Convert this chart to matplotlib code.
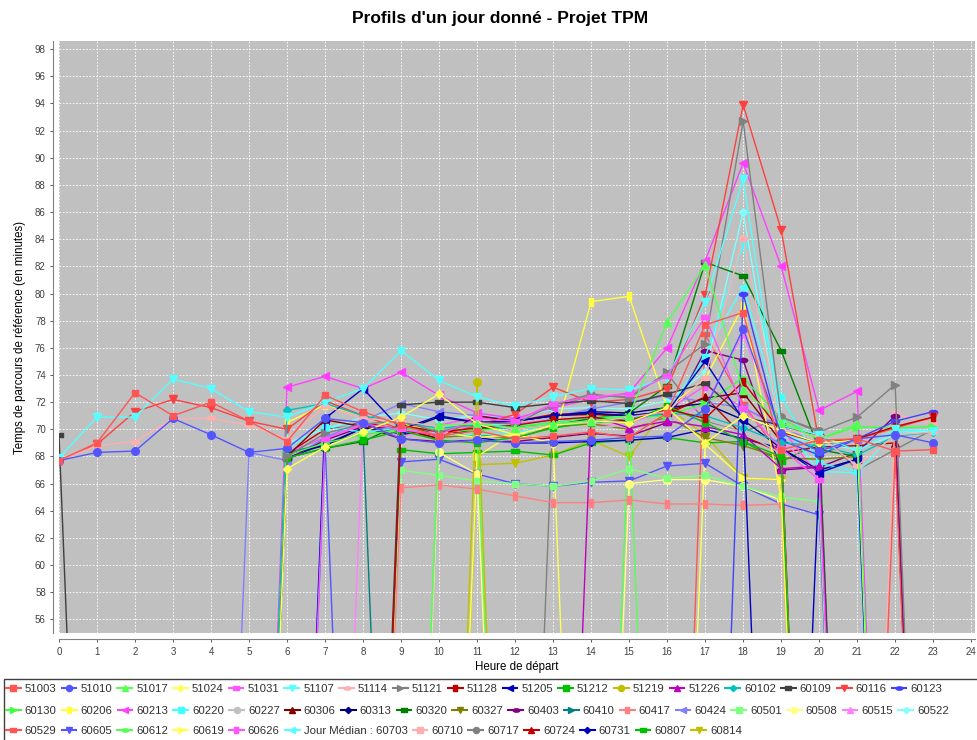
import matplotlib
matplotlib.use("Agg")
import matplotlib.pyplot as plt
from matplotlib.lines import Line2D
from matplotlib.path import Path
from matplotlib.transforms import Affine2D
from matplotlib.patches import Rectangle

plt.rcParams['font.family'] = ['Liberation Sans', 'DejaVu Sans']

hours = list(range(24))

# one list per day (0 = pas de mesure)
s51003 = [67.7, 69.0, 72.7, 71.0, 72.0, 70.6, 69.1, 72.5, 71.3, 70.3, 69.5, 69.9, 69.3, 69.5, 69.8, 69.4, 71.2, 77.7, 78.6, 68.5, 69.2, 69.3, 68.4, 68.5]
s51010 = [67.7, 68.3, 68.4, 70.8, 69.6, 68.3, 68.6, 70.8, 70.5, 69.3, 69.0, 69.2, 69.0, 69.1, 69.2, 69.4, 69.5, 71.5, 77.4, 69.7, 68.4, 69.3, 69.6, 69.0]
s51017 = [0, 0, 0, 0, 0, 0, 0, 0, 0, 0, 70.3, 70.4, 70.1, 70.4, 70.6, 71.0, 77.9, 82.1, 72.9, 70.5, 69.3, 70.4, 0, 0]
s51024 = [0, 0, 0, 0, 0, 0, 67.1, 68.7, 69.8, 70.9, 72.6, 70.4, 69.6, 70.3, 70.6, 70.5, 71.6, 69.0, 71.0, 69.9, 69.0, 69.2, 0, 0]
s51031 = [0, 0, 0, 0, 0, 0, 0, 69.3, 70.4, 70.0, 69.6, 70.8, 70.6, 71.9, 72.4, 72.6, 73.9, 78.3, 71.6, 68.6, 66.3, 0, 0, 0]
s51107 = [67.9, 70.9, 70.9, 73.7, 73.0, 71.3, 70.9, 72.0, 73.0, 75.8, 73.6, 72.4, 71.7, 72.4, 73.0, 72.9, 73.8, 79.4, 88.4, 70.3, 69.6, 68.4, 70.0, 69.9]
s51114 = [67.7, 68.8, 69.1, 70.8, 70.8, 70.3, 69.3, 71.7, 70.8, 70.6, 70.2, 70.5, 70.0, 70.3, 70.5, 70.9, 71.3, 73.8, 84.1, 70.0, 69.5, 67.3, 69.6, 69.8]
s51121 = [0, 0, 0, 0, 0, 0, 68.0, 69.7, 70.4, 70.6, 69.8, 70.5, 70.4, 71.8, 72.6, 72.3, 74.2, 76.3, 92.7, 70.9, 69.8, 70.9, 73.3, 0]
s51128 = [0, 0, 0, 0, 0, 0, 0, 0, 0, 70.3, 69.8, 70.1, 70.3, 70.7, 70.9, 70.6, 71.5, 70.8, 73.5, 69.8, 69.0, 69.3, 70.2, 70.9]
s51205 = [0, 0, 0, 0, 0, 0, 0, 70.8, 73.0, 70.0, 71.0, 70.5, 70.6, 71.0, 71.2, 71.0, 71.3, 75.0, 70.7, 0, 66.8, 67.8, 0, 0]
s51212 = [0, 0, 0, 0, 0, 0, 67.9, 68.6, 69.2, 69.9, 69.2, 69.0, 69.4, 70.1, 70.5, 70.6, 71.7, 70.5, 69.1, 68.0, 0, 0, 0, 0]
s51219 = [0, 0, 0, 0, 0, 0, 0, 0, 0, 0, 0, 73.5, 0, 0, 0, 0, 0, 0, 0, 0, 0, 0, 0, 0]
s51226 = [0, 0, 0, 0, 0, 0, 0, 0, 0, 0, 0, 0, 0, 0, 71.0, 70.1, 70.6, 70.2, 69.6, 67.1, 67.3, 0, 0, 0]
s60102 = [0, 0, 0, 0, 0, 0, 71.4, 71.9, 71.0, 70.5, 70.1, 70.3, 70.0, 70.3, 70.6, 70.8, 71.2, 71.0, 70.1, 69.0, 68.8, 68.1, 69.5, 69.8]
s60109 = [69.6, 0, 0, 0, 0, 0, 0, 0, 0, 71.8, 72.0, 72.0, 71.6, 71.9, 72.1, 71.9, 72.6, 73.4, 70.9, 70.3, 69.5, 0, 0, 0]
s60116 = [67.7, 68.9, 71.3, 72.2, 71.6, 70.6, 70.0, 72.1, 71.0, 70.0, 69.5, 70.3, 71.1, 73.1, 72.0, 72.2, 73.0, 79.9, 93.9, 84.7, 69.0, 69.3, 70.1, 70.9]
s60123 = [0, 0, 0, 0, 0, 0, 0, 0, 0, 0, 0, 0, 0, 0, 0, 0, 0, 0, 80.0, 69.2, 68.1, 69.3, 70.6, 71.3]
s60130 = [0, 0, 0, 0, 0, 0, 68.1, 69.0, 69.6, 70.0, 70.1, 69.9, 70.2, 70.5, 70.9, 70.9, 71.0, 71.9, 73.8, 70.8, 69.3, 70.2, 70.1, 70.2]
s60206 = [0, 0, 0, 0, 0, 0, 70.5, 71.8, 71.0, 70.4, 69.8, 69.4, 69.6, 69.0, 79.4, 79.8, 71.6, 73.7, 79.1, 65.0, 0, 0, 0, 0]
s60213 = [0, 0, 0, 0, 0, 0, 73.1, 73.9, 73.0, 74.2, 72.5, 71.2, 70.8, 71.6, 72.2, 72.7, 76.0, 82.4, 89.6, 82.0, 71.4, 72.8, 0, 0]
s60220 = [0, 0, 0, 0, 0, 0, 0, 70.2, 69.8, 70.1, 69.6, 69.6, 69.7, 70.4, 70.6, 70.9, 71.0, 75.3, 83.6, 72.4, 67.5, 66.9, 0, 0]
s60227 = [0, 0, 0, 0, 0, 0, 0, 0, 0, 0, 69.2, 69.0, 69.3, 69.9, 70.1, 70.3, 70.7, 70.5, 69.8, 68.2, 0, 0, 0, 0]
s60306 = [0, 0, 0, 0, 0, 0, 68.0, 70.7, 70.2, 70.1, 69.3, 71.0, 70.6, 71.0, 71.1, 71.0, 71.3, 72.3, 72.7, 69.1, 0, 0, 0, 0]
s60313 = [0, 0, 0, 0, 0, 0, 68.2, 68.8, 70.1, 69.9, 70.9, 70.5, 70.6, 71.0, 71.3, 71.2, 71.6, 71.9, 70.7, 68.6, 67.0, 67.8, 0, 0]
s60320 = [0, 0, 0, 0, 0, 0, 67.9, 68.6, 69.1, 70.4, 69.5, 70.0, 70.2, 70.3, 70.8, 71.2, 73.2, 82.3, 81.3, 75.8, 68.5, 68.0, 0, 0]
s60327 = [0, 0, 0, 0, 0, 0, 0, 0, 0, 70.6, 69.4, 69.6, 69.3, 70.2, 70.4, 70.0, 70.9, 69.4, 68.8, 67.9, 67.8, 68.0, 0, 0]
s60403 = [0, 0, 0, 0, 0, 0, 67.8, 69.2, 70.2, 69.3, 69.1, 69.2, 69.1, 69.4, 69.7, 69.5, 70.5, 75.8, 75.1, 67.0, 67.2, 68.3, 71.0, 0]
s60410 = [0, 0, 0, 0, 0, 0, 68.3, 68.9, 69.7, 0, 0, 0, 0, 0, 0, 0, 0, 0, 0, 0, 0, 0, 0, 0]
s60417 = [0, 0, 0, 0, 0, 0, 0, 0, 0, 65.7, 65.9, 65.6, 65.1, 64.6, 64.6, 64.8, 64.5, 64.5, 64.4, 64.5, 0, 0, 0, 0]
s60424 = [0, 0, 0, 0, 0, 68.3, 67.7, 69.4, 70.6, 71.9, 71.3, 71.0, 70.7, 70.9, 71.5, 72.0, 72.5, 72.0, 71.6, 70.2, 68.9, 69.2, 0, 0]
s60501 = [0, 0, 0, 0, 0, 0, 0, 0, 0, 67.0, 66.6, 66.2, 66.0, 65.8, 66.2, 67.1, 66.4, 66.6, 65.8, 65.0, 64.7, 0, 0, 0]
s60508 = [0, 0, 0, 0, 0, 0, 0, 0, 0, 0, 68.3, 66.7, 0, 0, 0, 66.0, 66.3, 66.3, 65.8, 64.8, 0, 0, 0, 0]
s60515 = [0, 0, 0, 0, 0, 0, 0, 0, 70.4, 69.5, 69.9, 70.3, 70.0, 70.6, 70.4, 70.2, 70.7, 71.8, 77.0, 69.3, 66.6, 0, 0, 0]
s60522 = [0, 0, 0, 0, 0, 0, 69.0, 70.0, 70.9, 71.2, 70.7, 71.0, 70.8, 71.5, 71.6, 71.5, 72.1, 74.2, 86.0, 69.5, 69.0, 68.5, 69.6, 69.9]
s60529 = [0, 0, 0, 0, 0, 0, 0, 0, 0, 0, 0, 0, 0, 0, 0, 0, 0, 77.0, 71.9, 68.0, 0, 0, 68.2, 0]
s60605 = [0, 0, 0, 0, 0, 0, 0, 69.0, 0, 67.6, 67.8, 66.7, 66.0, 65.8, 66.1, 66.2, 67.3, 67.5, 65.8, 64.5, 63.7, 0, 0, 0]
s60612 = [0, 0, 0, 0, 0, 0, 0, 0, 0, 0, 70.0, 69.9, 0, 0, 0, 70.9, 0, 0, 0, 0, 0, 0, 0, 0]
s60619 = [0, 0, 0, 0, 0, 0, 0, 0, 0, 0, 0, 68.0, 69.8, 69.2, 0, 0, 0, 68.9, 66.4, 66.3, 0, 0, 0, 0]
s60626 = [0, 0, 0, 0, 0, 0, 68.3, 69.4, 70.3, 70.0, 70.3, 70.9, 70.4, 70.7, 70.8, 70.5, 71.4, 73.2, 71.6, 70.1, 66.5, 0, 0, 0]
s60703 = [0, 0, 0, 0, 0, 0, 68.6, 70.2, 70.3, 70.1, 69.9, 70.4, 70.3, 70.6, 70.8, 71.0, 71.3, 75.5, 80.5, 70.6, 66.9, 66.8, 69.8, 69.9]
s60710 = [0, 0, 0, 0, 0, 0, 0, 0, 0, 0, 0, 0, 0, 0, 0, 0, 0, 0, 0, 0, 0, 0, 71.1, 70.4]
s60717 = [0, 0, 0, 0, 0, 0, 0, 0, 0, 0, 0, 0, 0, 71.6, 72.5, 72.4, 74.1, 70.6, 69.8, 70.9, 69.9, 67.0, 68.5, 70.0]
s60724 = [0, 0, 0, 0, 0, 0, 68.2, 70.0, 70.5, 70.0, 69.3, 71.0, 70.6, 71.1, 71.2, 70.8, 71.1, 72.4, 69.5, 68.3, 68.7, 68.8, 69.0, 0]
s60731 = [0, 0, 0, 0, 0, 0, 67.9, 68.9, 70.1, 69.6, 70.0, 69.4, 69.0, 69.0, 69.1, 69.2, 69.4, 70.0, 69.3, 68.6, 66.8, 0, 0, 0]
s60807 = [0, 0, 0, 0, 0, 0, 0, 0, 0, 68.5, 68.2, 68.3, 68.4, 68.1, 69.0, 69.2, 69.4, 69.0, 69.1, 67.6, 69.0, 0, 0, 0]
s60814 = [0, 0, 0, 0, 0, 0, 0, 0, 0, 0, 0, 67.4, 67.5, 68.1, 69.2, 68.0, 71.6, 69.6, 66.4, 66.3, 0, 0, 0, 0]

labels = ['51003', '51010', '51017', '51024', '51031', '51107', '51114', '51121', '51128',
          '51205', '51212', '51219', '51226', '60102', '60109', '60116', '60123', '60130',
          '60206', '60213', '60220', '60227', '60306', '60313', '60320', '60327', '60403',
          '60410', '60417', '60424', '60501', '60508', '60515', '60522', '60529', '60605',
          '60612', '60619', '60626', 'Jour Médian : 60703', '60710', '60717', '60724',
          '60731', '60807', '60814']
series = [s51003, s51010, s51017, s51024, s51031, s51107, s51114, s51121, s51128,
          s51205, s51212, s51219, s51226, s60102, s60109, s60116, s60123, s60130,
          s60206, s60213, s60220, s60227, s60306, s60313, s60320, s60327, s60403,
          s60410, s60417, s60424, s60501, s60508, s60515, s60522, s60529, s60605,
          s60612, s60619, s60626, s60703, s60710, s60717, s60724, s60731, s60807, s60814]

# palette et formes par defaut JFreeChart
palette = ['#FF5555', '#5555FF', '#55FF55', '#FFFF55', '#FF55FF', '#55FFFF', '#FFAFAF', '#808080',
           '#C00000', '#0000C0', '#00C000', '#C0C000', '#C000C0', '#00C0C0', '#404040',
           '#FF4040', '#4040FF', '#40FF40', '#FFFF40', '#FF40FF', '#40FFFF', '#C0C0C0',
           '#800000', '#000080', '#008000', '#808000', '#800080', '#008080',
           '#FF8080', '#8080FF', '#80FF80', '#FFFF80', '#FF80FF', '#80FFFF']
hrect = [(-1, -0.5), (1, -0.5), (1, 0.5), (-1, 0.5), (-1, -0.5)]
vrect = [(-0.5, -1), (0.5, -1), (0.5, 1), (-0.5, 1), (-0.5, -1)]
ellipse = Affine2D().scale(1, 0.5).transform_path(Path.unit_circle())
shapes = ['s', 'o', '^', 'D', hrect, 'v', ellipse, '>', vrect, '<']
sizes = [5, 5.5, 5.5, 4, 6, 5.5, 6, 5.5, 6, 5.5]

fig = plt.figure(figsize=(9.78, 7.40), dpi=100)
ax = fig.add_axes([59 / 978, 1 - 633 / 740, 916 / 978, 592 / 740])
ax.set_facecolor('#C0C0C0')

handles = []
for i in range(len(series) - 1, -1, -1):
    c = palette[i % len(palette)]
    m = shapes[i % 10]
    ms = sizes[i % 10]
    ax.plot(hours, series[i], color=c, lw=1, marker=m, ms=ms, mec=c, mfc=c)
for i in range(len(series)):
    c = palette[i % len(palette)]
    handles.append(Line2D([], [], color=c, lw=1.5, marker=shapes[i % 10],
                          ms=sizes[i % 10] * 0.8, mec=c, mfc=c))

ax.set_xlim(0, 24.1)
ax.set_ylim(55.0, 98.6)
ax.set_xticks(range(0, 25))
ax.set_yticks(range(56, 99, 2))
ax.grid(True, color='white', linestyle=(0, (2, 2)), linewidth=0.6)
ax.set_axisbelow(True)
for s in ['top', 'right']:
    ax.spines[s].set_visible(False)
ax.spines['left'].set_position(('outward', 4))
ax.spines['bottom'].set_position(('outward', 4))
ax.spines['left'].set_color('#808080')
ax.spines['bottom'].set_color('#808080')
ax.tick_params(labelsize=7, colors='#404040', length=2, width=0.6)
ax.tick_params(axis='x', pad=4)
ax.set_xlabel('Heure de départ', fontsize=8.3, labelpad=3)
ax.set_ylabel('Temps de parcours de référence (en minutes)', fontsize=8.3, labelpad=6)
fig.text(500 / 978, 1 - 19 / 740, "Profils d'un jour donné - Projet TPM",
         fontsize=12.5, fontweight='bold', ha='center', va='center')

# cadre de la legende
fig.patches.append(Rectangle((4 / 978, -0.01), 0.999, 1 - 679 / 740 + 0.01,
                             transform=fig.transFigure, facecolor='white',
                             edgecolor='#404040', linewidth=1, zorder=0))

rows = [(0, 17, 689), (17, 34, 711), (34, 46, 731)]
for a, b, yp in rows:
    leg = fig.legend(handles[a:b], labels[a:b], loc='center left',
                     bbox_to_anchor=(6 / 978, 1 - yp / 740), ncol=b - a, frameon=False,
                     fontsize=8.2, handlelength=1.3, handletextpad=0.35,
                     columnspacing=0.45, borderpad=0, borderaxespad=0)
    for t in leg.get_texts():
        t.set_color('#303030')

plt.savefig('out.png', dpi=100)
